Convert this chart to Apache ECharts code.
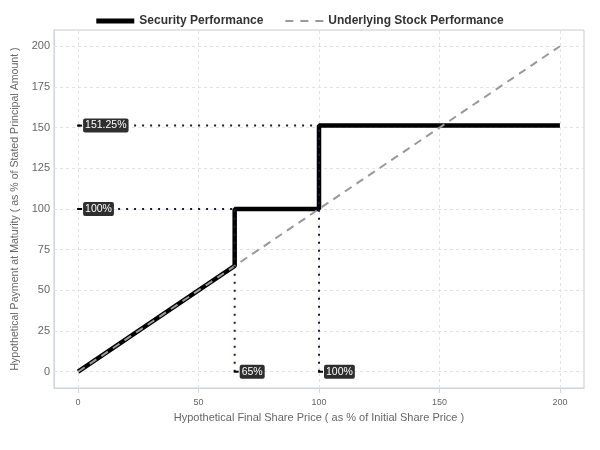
<!DOCTYPE html>
<html><head><meta charset="utf-8">
<script src="https://cdn.jsdelivr.net/npm/echarts@6/dist/echarts.min.js"></script>
<style>html,body{margin:0;padding:0;background:#fff}#c{width:600px;height:450px}</style>
</head><body><div id="c"></div>
<script>
const securityX = [0, 65, 65, 100, 100, 200];
const securityY = [0, 65, 100, 100, 151.25, 151.25];
const stockX = [0, 200];
const stockY = [0, 200];
const hLevels = [151.25, 100];      // payment levels (y) annotated on left
const hEnds = [100, 65];            // x where horizontal guides end
const vLevels = [65, 100];          // share price levels (x) annotated at bottom
const vEnds = [100, 151.25];        // y where vertical guides end
const yTicks = [0, 25, 50, 75, 100, 125, 150, 175, 200];
const xTicks = [0, 50, 100, 150, 200];

const zip = (a, b) => a.map((v, i) => [v, b[i]]);
const labelBox = {show: true, position: 'right', distance: 1, color: '#fff', fontSize: 10.5,
  fontFamily: 'Liberation Sans', backgroundColor: '#2e2e2e', borderRadius: 2, padding: [2, 2, 1, 2]};
const gridStyle = {color: '#e2e2e2', width: 1, type: [3, 3]};

const series = [
  {type: 'line', data: [], silent: true, z: 1,
   markLine: {silent: true, z: 1, symbol: 'none', label: {show: false}, animation: false,
     lineStyle: gridStyle,
     data: yTicks.map(v => ({yAxis: v})).concat(xTicks.map(v => ({xAxis: v})))}},
  {name: 'Security Performance', type: 'line', data: zip(securityX, securityY), symbol: 'none',
   lineStyle: {color: '#000', width: 4.5}, itemStyle: {color: '#000'}, z: 3},
  {name: 'Underlying Stock Performance', type: 'line', data: zip(stockX, stockY), symbol: 'none',
   lineStyle: {color: '#999', width: 2, type: [8, 6]}, itemStyle: {color: '#999'}, z: 4}
];
hLevels.forEach((y, i) => series.push({type: 'line', data: [[0, y], [hEnds[i], y]], symbol: 'none',
  lineStyle: {color: '#1c1c3c', width: 2, type: [2, 6]}, z: 5, silent: true}));
vLevels.forEach((x, i) => series.push({type: 'line', data: [[x, 0], [x, vEnds[i]]], symbol: 'none',
  lineStyle: {color: '#1c1c3c', width: 2, type: [2, 6]}, z: 5, silent: true}));
series.push({type: 'scatter', data: hLevels.map(y => ({value: [0, y], label: {formatter: y + '%'}})),
  symbol: 'rect', symbolSize: [5, 2], symbolOffset: [1.5, 0], itemStyle: {color: '#000', opacity: 1},
  label: labelBox, z: 6, silent: true});
series.push({type: 'scatter', data: vLevels.map(x => ({value: [x, 0], label: {formatter: x + '%'}})),
  symbol: 'rect', symbolSize: [5, 2], symbolOffset: [1.5, 0], itemStyle: {color: '#000', opacity: 1},
  label: labelBox, z: 6, silent: true});

const chart = echarts.init(document.getElementById('c'));
chart.setOption({
  animation: false,
  textStyle: {fontFamily: 'Liberation Sans'},
  legend: {top: 10, left: 'center', itemWidth: 38, itemHeight: 5, itemGap: 22,
    data: [
      {name: 'Security Performance', icon: 'path://M0,0h38v5h-38z', itemStyle: {color: '#000'}},
      {name: 'Underlying Stock Performance',
       icon: 'path://M0,0M38,5M0,1.5h8v2h-8zM15,1.5h8v2h-8zM30,1.5h8v2h-8z', itemStyle: {color: '#999'}}
    ],
    textStyle: {fontSize: 12, fontWeight: 'bold', color: '#333', fontFamily: 'Liberation Sans'}},
  grid: {left: 54, right: 16, top: 30, bottom: 62, show: true, borderColor: '#ccc', borderWidth: 1},
  xAxis: {type: 'value', min: -10, max: 210,
    name: 'Hypothetical Final Share Price ( as % of Initial Share Price )', nameLocation: 'middle', nameGap: 24,
    nameTextStyle: {fontSize: 11, color: '#666'},
    axisLine: {onZero: false, lineStyle: {color: '#ccd6eb'}},
    axisTick: {show: true, length: 5, customValues: xTicks, lineStyle: {color: '#ccd6eb'}},
    axisLabel: {customValues: xTicks, fontSize: 9, color: '#666', margin: 10},
    splitLine: {show: false}},
  yAxis: {type: 'value', min: -10, max: 210,
    name: 'Hypothetical Payment at Maturity ( as % of Stated Principal Amount )', nameLocation: 'middle', nameGap: 31,
    nameTextStyle: {fontSize: 10.6, color: '#666'},
    axisLine: {show: true, onZero: false, lineStyle: {color: '#ccd6eb'}},
    axisTick: {show: false, customValues: yTicks},
    axisLabel: {customValues: yTicks, fontSize: 11, color: '#666', margin: 4},
    splitLine: {show: false}},
  series: series
});
</script></body></html>
